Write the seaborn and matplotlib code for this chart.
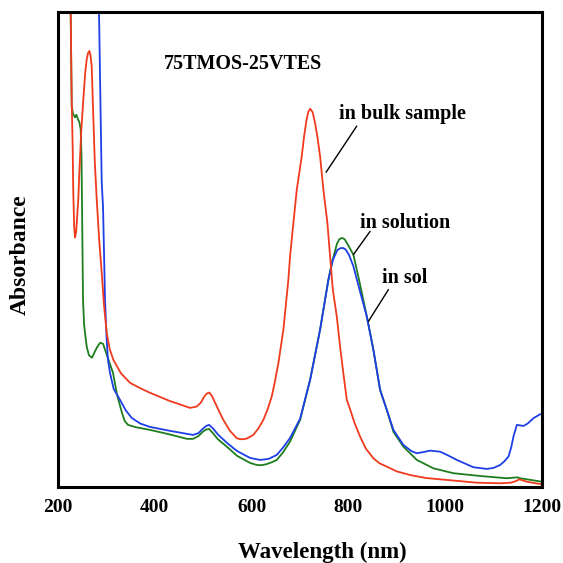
import matplotlib
matplotlib.use('Agg')
import matplotlib.pyplot as plt
import seaborn as sns
import pandas as pd

# Spectra (wavelength in nm, absorbance in arbitrary units)
bulk_wl = [220, 226.2, 228.3, 230.4, 231.5, 233.5, 235.1, 237.5, 241.9, 244, 248, 252.3, 256, 259.3,
           262, 264.7, 267, 269.6, 272.9, 276, 280, 285, 290.3, 295, 300.6, 307, 314.3, 330, 348.8,
           370, 390.1, 430, 472.7, 486.6, 495, 502, 507, 512.6, 518, 525, 533, 541.5, 555, 569.2,
           576, 582.9, 590, 603.5, 614, 624.2, 633, 641.5, 648, 655.2, 665.5, 675.8, 679.3, 686.2,
           693.2, 703.5, 708, 713, 717, 721, 726, 731, 736, 741.3, 748.1, 756.4, 762, 767.6, 775.8,
           782.6, 790, 796.5, 803.3, 812, 824, 836, 851.4, 864, 879.1, 900, 927.3, 960, 1003.1,
           1065, 1113.2, 1135, 1145, 1153.1, 1160, 1168.4, 1185, 1199.4]
bulk_abs = [4.6, 3.997, 3.268, 2.85, 2.5, 2.2, 2.114, 2.16, 2.432, 2.65, 3.0, 3.268, 3.48, 3.603,
            3.655, 3.673, 3.64, 3.547, 3.129, 2.75, 2.432, 2.1, 1.821, 1.55, 1.319, 1.18, 1.093, 0.98, 0.900,
            0.855, 0.817, 0.75, 0.691, 0.702, 0.735, 0.785, 0.81, 0.819, 0.79, 0.73, 0.66, 0.591, 0.5, 0.438,
            0.43, 0.429, 0.435, 0.465, 0.52, 0.591, 0.68, 0.786, 0.91, 1.065, 1.344, 1.762, 1.957, 2.237,
            2.515, 2.794, 2.95, 3.09, 3.165, 3.19, 3.16, 3.07, 2.95, 2.794, 2.515, 2.237, 1.957, 1.679, 1.455,
            1.204, 0.96, 0.758, 0.68, 0.57, 0.451, 0.35, 0.27, 0.228, 0.2, 0.16, 0.13, 0.105, 0.089,
            0.066, 0.061, 0.066, 0.078, 0.094, 0.085, 0.074, 0.062, 0.053]

solution_wl = [222, 226.2, 228.3, 231, 235.1, 238, 241.4, 244, 246.9, 248.5, 249.5, 251.7, 254, 259.3,
               264, 270.2, 276, 281, 287, 293, 302, 313.6, 322, 332.2, 338, 344.6, 360, 390.1, 430,
               466.5, 478.9, 490, 500, 506, 512, 520, 530, 549.2, 570, 596.7, 610.5, 620, 630, 641,
               651.9, 665, 679.3, 700, 720.7, 741.3, 758.5, 765.5, 776, 781, 786.8, 792, 798, 810.1,
               824, 837.8, 851.4, 865.3, 879.1, 892.8, 913.4, 941.1, 975.4, 1016.7, 1071.9, 1127,
               1142, 1147.7, 1154.5, 1175, 1199.4]
solution_abs = [4.6, 3.997, 3.21, 3.15, 3.118, 3.14, 3.101, 3.08, 3.017, 2.8, 2.432, 1.595, 1.38, 1.202,
                1.13, 1.11, 1.16, 1.2, 1.235, 1.227, 1.12, 0.984, 0.8, 0.649, 0.58, 0.549, 0.53, 0.507, 0.47,
                0.432, 0.432, 0.455, 0.495, 0.51, 0.515, 0.48, 0.43, 0.365, 0.29, 0.231, 0.214, 0.212, 0.22,
                0.236, 0.256, 0.32, 0.41, 0.59, 0.925, 1.344, 1.762, 1.902, 2.06, 2.1, 2.111, 2.1, 2.06, 1.971,
                1.72, 1.455, 1.176, 0.84, 0.674, 0.49, 0.367, 0.256, 0.186, 0.145, 0.122, 0.103,
                0.108, 0.111, 0.103, 0.09, 0.074]

sol_wl = [283, 284.7, 290.3, 293, 295, 297.1, 300.6, 303, 307.4, 315, 328.1, 340, 352.3, 370, 390.1,
          430, 478.9, 490, 500, 506, 512, 520, 530, 549.2, 570, 596.7, 617.4, 635, 651.9, 665, 679.3,
          700, 720.7, 741.3, 758.5, 768, 777, 783, 788.8, 794, 801, 810.1, 824, 837.8, 851.4, 865.3,
          879.1, 892.8, 913.4, 930, 941.1, 955, 968.6, 989.3, 1005, 1023.8, 1058, 1085.7, 1100,
          1113.2, 1122, 1130.4, 1136, 1140.7, 1147.7, 1154, 1161.4, 1170, 1182, 1195.9, 1200]
sol_abs = [4.6, 4.0, 2.574, 2.373, 2.0, 1.595, 1.26, 1.1, 0.984, 0.85, 0.758, 0.67, 0.607, 0.56, 0.532,
           0.5, 0.465, 0.48, 0.52, 0.54, 0.549, 0.52, 0.47, 0.398, 0.33, 0.273, 0.256, 0.265, 0.298, 0.36,
           0.44, 0.6, 0.925, 1.344, 1.762, 1.93, 2.01, 2.025, 2.027, 2.015, 1.97, 1.874, 1.66,
           1.455, 1.176, 0.842, 0.674, 0.507, 0.381, 0.33, 0.312, 0.322, 0.334, 0.325, 0.295, 0.256, 0.195,
           0.181, 0.19, 0.214, 0.245, 0.284, 0.36, 0.451, 0.549, 0.545, 0.540, 0.56, 0.605, 0.638, 0.64]

x_ticks = [200, 400, 600, 800, 1000, 1200]
y_ticks = [1, 2, 3]

sns.set_style('white')
plt.rcParams['font.family'] = ['Liberation Serif', 'DejaVu Serif']
plt.rcParams['font.weight'] = 'bold'
plt.rcParams['text.color'] = 'black'
plt.rcParams['xtick.color'] = 'black'
plt.rcParams['ytick.color'] = 'black'

fig = plt.figure(figsize=(5.63, 5.63), dpi=100)
ax = fig.add_axes([0.103, 0.135, 0.86, 0.844])

df_bulk = pd.DataFrame({'wl': bulk_wl, 'abs': bulk_abs})
df_solution = pd.DataFrame({'wl': solution_wl, 'abs': solution_abs})
df_sol = pd.DataFrame({'wl': sol_wl, 'abs': sol_abs})

sns.lineplot(data=df_solution, x='wl', y='abs', ax=ax, color='#1e7d1e', lw=1.3, sort=False)
sns.lineplot(data=df_sol, x='wl', y='abs', ax=ax, color='#1f3fe6', lw=1.3, sort=False)
sns.lineplot(data=df_bulk, x='wl', y='abs', ax=ax, color='#f03a1e', lw=1.3, sort=False)

ax.set_xlim(200, 1200)
ax.set_ylim(0.03, 4.0)
ax.set_xticks(x_ticks)
ax.set_xticklabels([str(t) for t in x_ticks], fontsize=14, fontweight='bold', color='black')
ax.set_yticks(y_ticks)
ax.set_yticklabels([])
ax.tick_params(axis='x', direction='in', length=5, width=1, pad=9, colors='black')
ax.tick_params(axis='y', direction='in', length=8, width=1, colors='black')
for s in ax.spines.values():
    s.set_linewidth(2.2)
    s.set_color('black')

ax.set_xlabel('')
ax.set_ylabel('')
fig.text(322 / 563, 1 - 552 / 563, 'Wavelength (nm)', fontsize=16.5, fontweight='bold',
         ha='center', va='center', color='black')
fig.text(20 / 563, 1 - 255 / 563, 'Absorbance', fontsize=17, fontweight='bold',
         ha='center', va='center', rotation=90, color='black')

ax.text(582, 3.56, '75TMOS-25VTES', fontsize=14.4, fontweight='bold', ha='center', va='center',
        color='black')

# labels and leader lines
ax.text(911, 3.143, 'in bulk sample', fontsize=14.5, fontweight='bold', ha='center', va='center',
        color='black')
ax.annotate('', xy=(753.7, 2.66), xytext=(817, 3.045),
            arrowprops=dict(arrowstyle='-', color='black', lw=1, shrinkA=0, shrinkB=0))
ax.text(917, 2.239, 'in solution', fontsize=14.5, fontweight='bold', ha='center', va='center',
        color='black')
ax.annotate('', xy=(810, 1.971), xytext=(844.6, 2.166),
            arrowprops=dict(arrowstyle='-', color='black', lw=1, shrinkA=0, shrinkB=0))
ax.text(917, 1.78, 'in sol', fontsize=14.5, fontweight='bold', ha='center', va='center',
        color='black')
ax.annotate('', xy=(841, 1.413), xytext=(882.4, 1.679),
            arrowprops=dict(arrowstyle='-', color='black', lw=1, shrinkA=0, shrinkB=0))

fig.savefig('out.png', dpi=100)
